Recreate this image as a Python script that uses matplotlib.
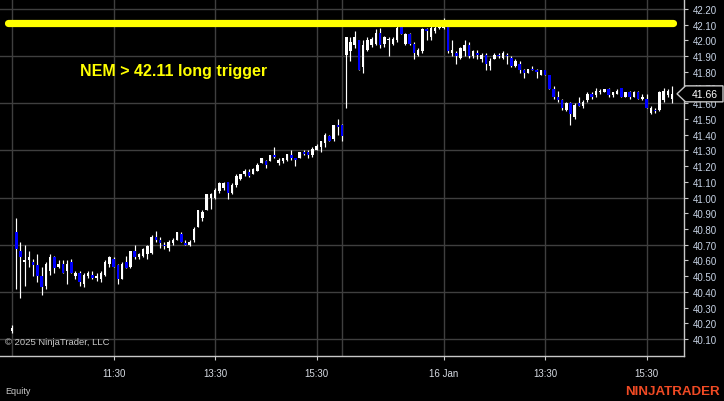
import matplotlib
matplotlib.use("Agg")
import matplotlib.pyplot as plt
from matplotlib.patches import Polygon
import numpy as np

plt.rcParams['font.family'] = ['Liberation Sans', 'DejaVu Sans']

# ---------------- data (5-minute bars, NEM) ----------------
opens = [40.15, 40.78, 40.66, 40.59, 40.60, 40.59, 40.57, 40.50, 40.44, 40.53,
         40.62, 40.56, 40.58, 40.53, 40.59, 40.50, 40.52, 40.45, 40.50, 40.51,
         40.49, 40.48, 40.51, 40.58, 40.61, 40.57, 40.48, 40.59, 40.56, 40.66,
         40.62, 40.63, 40.64, 40.65, 40.75, 40.73, 40.70, 40.68, 40.71, 40.73,
         40.77, 40.71, 40.70, 40.73, 40.81, 40.87, 40.92, 41.00, 41.00, 41.04,
         41.06, 41.10, 41.03, 41.08, 41.12, 41.15, 41.16, 41.15, 41.17, 41.22,
         41.23, 41.23, 41.27, 41.22, 41.23, 41.24, 41.27, 41.25, 41.25, 41.29,
         41.29, 41.27, 41.30, 41.32, 41.35, 41.39, 41.37, 41.46, 41.46,
         41.91, 41.93, 41.97, 42.00, 41.83, 41.94, 41.97, 41.98, 42.05, 41.98,
         42.00, 41.98, 42.00, 42.09, 41.98, 42.04, 41.98, 41.91, 41.93, 42.07,
         42.02, 42.06, 42.08, 42.08, 42.09, 41.92, 41.92, 41.89, 41.93, 41.97,
         41.90, 41.92, 41.88, 41.91, 41.84, 41.88, 41.91, 41.89, 41.91, 41.89,
         41.84, 41.85, 41.81, 41.79, 41.82, 41.81, 41.78, 41.81, 41.78, 41.69,
         41.64, 41.62, 41.56, 41.60, 41.51, 41.60, 41.58, 41.62, 41.66, 41.65,
         41.67, 41.67, 41.69, 41.65, 41.66, 41.70, 41.64, 41.67, 41.64, 41.67,
         41.63, 41.63, 41.54, 41.56, 41.56, 41.62, 41.65, 41.63]
highs = [40.19, 40.87, 40.72, 40.70, 40.66, 40.61, 40.64, 40.56, 40.59, 40.64,
         40.63, 40.60, 40.60, 40.60, 40.61, 40.53, 40.53, 40.52, 40.53, 40.53,
         40.52, 40.53, 40.60, 40.63, 40.62, 40.58, 40.59, 40.63, 40.66, 40.70,
         40.65, 40.68, 40.70, 40.76, 40.79, 40.75, 40.72, 40.73, 40.74, 40.78,
         40.78, 40.73, 40.73, 40.81, 40.92, 40.92, 41.02, 41.03, 41.06, 41.10,
         41.10, 41.10, 41.09, 41.15, 41.15, 41.18, 41.18, 41.19, 41.22, 41.25,
         41.24, 41.27, 41.32, 41.25, 41.25, 41.28, 41.30, 41.25, 41.29, 41.30,
         41.30, 41.32, 41.34, 41.36, 41.41, 41.40, 41.46, 41.50, 41.47,
         42.02, 42.02, 42.06, 42.00, 42.00, 42.02, 42.02, 42.07, 42.08, 42.03,
         42.02, 42.02, 42.09, 42.09, 42.05, 42.05, 41.99, 41.95, 42.08, 42.08,
         42.09, 42.09, 42.10, 42.14, 42.10, 42.00, 41.93, 41.96, 42.00, 41.99,
         41.94, 41.94, 41.92, 41.92, 41.89, 41.92, 41.92, 41.93, 41.92, 41.90,
         41.88, 41.87, 41.82, 41.82, 41.84, 41.82, 41.81, 41.81, 41.78, 41.71,
         41.68, 41.63, 41.61, 41.61, 41.60, 41.64, 41.62, 41.67, 41.67, 41.70,
         41.69, 41.69, 41.70, 41.67, 41.69, 41.70, 41.67, 41.68, 41.68, 41.68,
         41.66, 41.66, 41.58, 41.57, 41.68, 41.70, 41.69, 41.71]
lows = [40.14, 40.42, 40.36, 40.44, 40.56, 40.50, 40.46, 40.38, 40.42, 40.51,
        40.52, 40.55, 40.52, 40.45, 40.52, 40.48, 40.44, 40.43, 40.49, 40.48,
        40.47, 40.46, 40.50, 40.56, 40.56, 40.45, 40.48, 40.55, 40.55, 40.61,
        40.61, 40.62, 40.61, 40.64, 40.72, 40.68, 40.67, 40.66, 40.70, 40.73,
        40.72, 40.70, 40.69, 40.72, 40.81, 40.85, 40.92, 40.93, 40.99, 41.03,
        41.05, 40.99, 41.02, 41.07, 41.11, 41.14, 41.13, 41.15, 41.17, 41.22,
        41.19, 41.23, 41.25, 41.21, 41.22, 41.23, 41.24, 41.20, 41.25, 41.27,
        41.25, 41.26, 41.30, 41.29, 41.32, 41.36, 41.36, 41.40, 41.36,
        41.57, 41.87, 41.95, 41.81, 41.79, 41.93, 41.96, 41.97, 41.95, 41.96,
        41.90, 41.97, 41.99, 42.04, 41.97, 41.97, 41.88, 41.90, 41.92, 42.00,
        42.00, 42.05, 42.07, 42.07, 41.92, 41.90, 41.85, 41.88, 41.90, 41.89,
        41.89, 41.88, 41.86, 41.81, 41.81, 41.88, 41.89, 41.88, 41.85, 41.83,
        41.83, 41.79, 41.76, 41.79, 41.81, 41.76, 41.78, 41.78, 41.69, 41.63,
        41.61, 41.56, 41.55, 41.46, 41.50, 41.58, 41.57, 41.61, 41.63, 41.64,
        41.66, 41.67, 41.64, 41.64, 41.66, 41.64, 41.64, 41.63, 41.64, 41.63,
        41.62, 41.57, 41.53, 41.54, 41.55, 41.61, 41.64, 41.60]
closes = [40.17, 40.67, 40.62, 40.60, 40.62, 40.57, 40.50, 40.43, 40.58, 40.62,
          40.55, 40.58, 40.52, 40.58, 40.52, 40.52, 40.46, 40.51, 40.52, 40.49,
          40.50, 40.52, 40.59, 40.62, 40.56, 40.48, 40.58, 40.55, 40.66, 40.62,
          40.64, 40.67, 40.69, 40.75, 40.73, 40.71, 40.69, 40.72, 40.73, 40.78,
          40.72, 40.70, 40.72, 40.80, 40.92, 40.91, 41.02, 41.02, 41.05, 41.09,
          41.09, 41.03, 41.08, 41.14, 41.15, 41.17, 41.14, 41.18, 41.21, 41.25,
          41.21, 41.27, 41.26, 41.24, 41.25, 41.28, 41.25, 41.24, 41.29, 41.28,
          41.27, 41.31, 41.33, 41.36, 41.40, 41.36, 41.46, 41.45, 41.39,
          42.02, 41.99, 42.02, 41.81, 41.97, 42.00, 42.01, 42.05, 41.97, 42.02,
          42.01, 42.01, 42.08, 42.04, 42.04, 41.98, 41.92, 41.94, 42.07, 42.06,
          42.08, 42.08, 42.09, 42.10, 41.93, 41.94, 41.90, 41.95, 41.97, 41.90,
          41.93, 41.91, 41.91, 41.85, 41.87, 41.91, 41.90, 41.92, 41.90, 41.84,
          41.87, 41.81, 41.79, 41.82, 41.81, 41.80, 41.81, 41.78, 41.69, 41.64,
          41.62, 41.57, 41.60, 41.53, 41.59, 41.58, 41.61, 41.66, 41.64, 41.68,
          41.68, 41.69, 41.65, 41.67, 41.68, 41.64, 41.67, 41.64, 41.67, 41.63,
          41.64, 41.57, 41.57, 41.55, 41.67, 41.68, 41.68, 41.66]

x_tick_pos = [24, 48, 72, 102, 126, 150]
x_tick_labels = ["11:30", "13:30", "15:30", "16 Jan", "13:30", "15:30"]
x_grid_pos = [0, 24, 48, 72, 78, 102, 126, 150]
y_ticks = [round(40.10 + 0.1 * k, 2) for k in range(22)]
y_grid = [40.10, 40.40, 40.70, 41.00, 41.30, 41.60, 41.90, 42.20]
trigger = 42.11
last_price = closes[-1]

# ---------------- figure ----------------
W, H = 724, 402
fig = plt.figure(figsize=(W / 100, H / 100), dpi=100)
fig.patch.set_facecolor('black')
ax = fig.add_axes([0, (H - 357) / H, 684.3 / W, 357 / H])
ax.set_facecolor('black')

n = len(opens)
idx = np.arange(n)
o = np.array(opens); c = np.array(closes); hi = np.array(highs); lo = np.array(lows)
up = c >= o

grid_col = '#3f3f3f'
for g in y_grid:
    ax.axhline(g, color=grid_col, lw=1.0, zorder=0)
for g in x_grid_pos:
    ax.axvline(g, color=grid_col, lw=1.0, zorder=0)

# wicks
ax.vlines(idx, lo, hi, color='white', lw=0.85, zorder=2)
# bodies
bottom = np.minimum(o, c)
height = np.maximum(np.abs(c - o), 0.006)
colors = np.where(up, '#ffffff', '#0000ff')
ax.bar(idx, height, bottom=bottom, width=0.6, color=colors, linewidth=0, zorder=3)

# trigger line
ax.plot([-1.05, 156.3], [trigger, trigger], color='#ffff00', lw=5.2,
        solid_capstyle='round', zorder=4)

ax.text(80 / 684.3, 1 - 72 / 357, f"NEM > {trigger:.2f} long trigger",
        transform=ax.transAxes, color='#ffff00', fontsize=11.5,
        fontweight='bold', va='center', ha='left', zorder=6)

ax.text(5 / 684.3, 1 - 343 / 357, "© 2025 NinjaTrader, LLC",
        transform=ax.transAxes, color='#c8c8c8', fontsize=6.8,
        va='center', ha='left', zorder=6)

ax.set_xlim(-12 / 4.231, (684.3 - 12) / 4.231)
ax.set_ylim(42.20 - 347 / 157.14, 42.20 + 10 / 157.14)

# axes styling
for s in ['left', 'top']:
    ax.spines[s].set_visible(False)
for s in ['right', 'bottom']:
    ax.spines[s].set_color('#c8c8c8')
    ax.spines[s].set_linewidth(1.0)

ax.yaxis.tick_right()
ax.set_yticks(y_ticks)
ax.set_yticklabels([f"{v:.2f}" for v in y_ticks])
ax.tick_params(axis='y', colors='#c8c8c8', labelcolor='#c8d4e6', labelsize=7,
               length=3, width=0.8, pad=3)
ax.set_xticks(x_tick_pos)
ax.set_xticklabels(x_tick_labels)
ax.tick_params(axis='x', colors='#c8c8c8', labelcolor='#d8dce4', labelsize=7,
               length=3, width=0.8, pad=6)

# last price marker
yt = ax.get_yaxis_transform()
hh = 8 / 157.14
x0 = 677 / 684.3; x1 = 685.5 / 684.3; x2 = 723 / 684.3
poly = Polygon([[x0, last_price], [x1, last_price + hh], [x2, last_price + hh],
                [x2, last_price - hh], [x1, last_price - hh]], closed=True,
               transform=yt, facecolor='black', edgecolor='#c8c8c8', lw=1.0,
               clip_on=False, zorder=10)
ax.add_patch(poly)
ax.text((x1 + x2) / 2, last_price, f"{last_price:.2f}", transform=yt,
        color='white', fontsize=7.5, ha='center', va='center', clip_on=False,
        zorder=11)

fig.text(5 / W, 1 - 392 / H, "Equity", color='#c8c8c8', fontsize=6.5,
         ha='left', va='center')
fig.text(720 / W, 1 - 392 / H, "NINJATRADER", color='#f04a24', fontsize=9.6,
         fontweight='bold', family='Liberation Sans',
         ha='right', va='center')

fig.savefig('out.png', dpi=100, facecolor='black')
